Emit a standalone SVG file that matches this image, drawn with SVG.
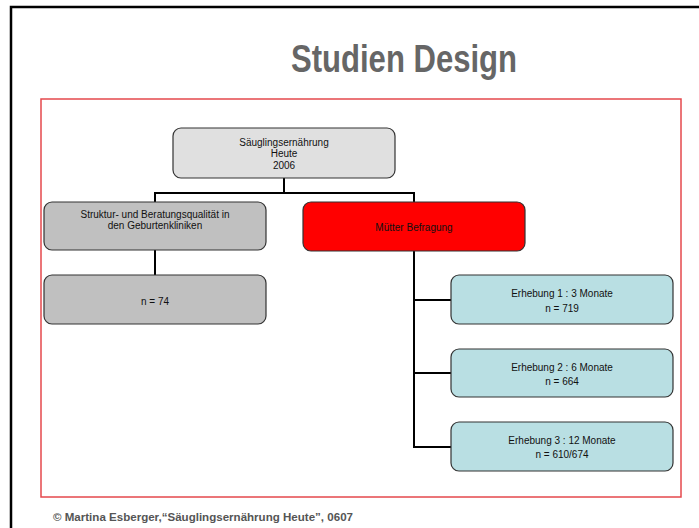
<svg xmlns="http://www.w3.org/2000/svg" width="699" height="528" viewBox="0 0 699 528">
<style>
.box{stroke:#333;stroke-width:1.2}
.t{font-family:"Liberation Sans",Arial,sans-serif;font-size:10px;fill:#111;text-anchor:middle}
.conn{fill:none;stroke:#000;stroke-width:2}
</style>
<rect width="699" height="528" fill="#fff"/>
<path d="M11 530 V7 H700" fill="none" stroke="#000" stroke-width="2.5"/>
<text x="404" y="72" font-family="'Liberation Sans',Arial,sans-serif" font-size="38" font-weight="bold" fill="#666" text-anchor="middle" textLength="226" lengthAdjust="spacingAndGlyphs">Studien Design</text>
<rect x="41" y="99" width="640" height="398" fill="none" stroke="#e5484c" stroke-width="1.5"/>
<g id="connectors">
<path class="conn" d="M284 178 V193 M155 202 V193 H414 V202 M155 250 V275 M414 251 V447 H451 M414 300 H451 M414 373 H451"/>
</g>
<g id="n-top">
<rect class="box" x="173" y="128" width="222" height="50" rx="8" fill="#e0e0e0"/>
<text class="t" x="284" y="145.5">Säuglingsernährung</text>
<text class="t" x="284" y="157">Heute</text>
<text class="t" x="284" y="168.5">2006</text>
</g>
<g id="n-struktur">
<rect class="box" x="44" y="202" width="222" height="48" rx="8" fill="#c0c0c0"/>
<text class="t" x="155" y="218" font-size="9">Struktur- und Beratungsqualität in</text>
<text class="t" x="155" y="228.5" font-size="9">den Geburtenkliniken</text>
</g>
<g id="n-muetter">
<rect class="box" x="303" y="202" width="222" height="49" rx="8" fill="#ff0000"/>
<text class="t" x="414" y="230.5">Mütter Befragung</text>
</g>
<g id="n-74">
<rect class="box" x="44" y="275" width="222" height="49" rx="8" fill="#c0c0c0"/>
<text class="t" x="155" y="305">n = 74</text>
</g>
<g id="n-e1">
<rect class="box" x="451" y="275" width="222" height="49" rx="8" fill="#b9dfe3"/>
<text class="t" x="562" y="297">Erhebung 1 : 3 Monate</text>
<text class="t" x="562" y="311.5">n = 719</text>
</g>
<g id="n-e2">
<rect class="box" x="451" y="349" width="222" height="48" rx="8" fill="#b9dfe3"/>
<text class="t" x="562" y="371">Erhebung 2 : 6 Monate</text>
<text class="t" x="562" y="385">n = 664</text>
</g>
<g id="n-e3">
<rect class="box" x="451" y="422" width="222" height="49" rx="8" fill="#b9dfe3"/>
<text class="t" x="562" y="444">Erhebung 3 : 12 Monate</text>
<text class="t" x="562" y="457.5">n = 610/674</text>
</g>
<text x="53" y="521" font-family="'Liberation Sans',Arial,sans-serif" font-size="11.5" font-weight="bold" fill="#555" textLength="300" lengthAdjust="spacingAndGlyphs">© Martina Esberger,“Säuglingsernährung Heute”, 0607</text>
</svg>
